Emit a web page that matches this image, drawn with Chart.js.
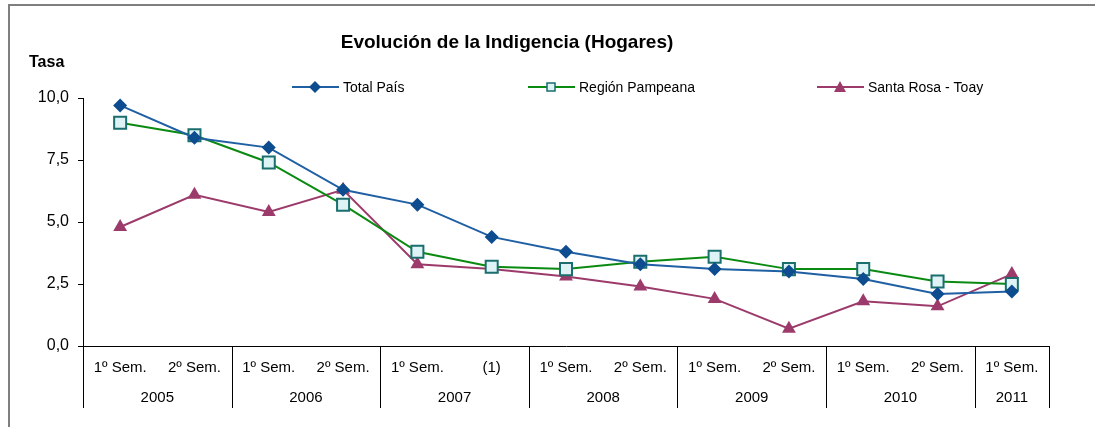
<!DOCTYPE html>
<html>
<head>
<meta charset="utf-8">
<script src="https://cdn.jsdelivr.net/npm/chart.js@4.4.1/dist/chart.umd.min.js"></script>
<style>
  body { margin: 0; background: #fff; }
</style>
</head>
<body>
<canvas id="grafico" width="1095" height="427"></canvas>
<script>
// Datos
const semestres = ['1º Sem.', '2º Sem.', '1º Sem.', '2º Sem.', '1º Sem.', '(1)', '1º Sem.', '2º Sem.', '1º Sem.', '2º Sem.', '1º Sem.', '2º Sem.', '1º Sem.'];
const anios = ['2005', '2006', '2007', '2008', '2009', '2010', '2011'];
const semestresPorAnio = [2, 2, 2, 2, 2, 2, 1];
const totalPais = [9.7, 8.4, 8.0, 6.3, 5.7, 4.4, 3.8, 3.3, 3.1, 3.0, 2.7, 2.1, 2.2];
const regionPampeana = [9.0, 8.5, 7.4, 5.7, 3.8, 3.2, 3.1, 3.4, 3.6, 3.1, 3.1, 2.6, 2.5];
const santaRosaToay = [4.8, 6.1, 5.4, 6.3, 3.3, 3.1, 2.8, 2.4, 1.9, 0.7, 1.8, 1.6, 2.9];
const ticksY = [0, 2.5, 5, 7.5, 10];

const FUENTE = '"Liberation Sans", Arial, sans-serif';

// Colores
const azul = '#1F5FA3', azulMarca = '#0D4C8E';
const verde = '#0B8A12', tealBorde = '#1A6E6E', celeste = '#DDF3F5';
const purpura = '#9C3B6B';

// Dibuja una marca de la leyenda
function marca(ctx, tipo, x, y) {
    ctx.beginPath();
    if (tipo === 'diamante') {
        ctx.fillStyle = azulMarca;
        ctx.moveTo(x - 6, y); ctx.lineTo(x, y - 6); ctx.lineTo(x + 6, y); ctx.lineTo(x, y + 6);
        ctx.closePath(); ctx.fill();
    } else if (tipo === 'cuadrado') {
        ctx.fillStyle = celeste; ctx.strokeStyle = tealBorde; ctx.lineWidth = 1.5;
        ctx.rect(x - 4, y - 4, 8, 8); ctx.fill(); ctx.stroke();
    } else {
        ctx.fillStyle = purpura;
        ctx.moveTo(x - 6, y + 5); ctx.lineTo(x, y - 6); ctx.lineTo(x + 6, y + 5);
        ctx.closePath(); ctx.fill();
    }
}

const decoracion = {
    id: 'decoracion',
    afterDraw(chart) {
        const ctx = chart.ctx;
        const xs = chart.scales.x;
        const area = chart.chartArea;
        ctx.save();

        // Marco gris
        ctx.strokeStyle = '#7f7f7f';
        ctx.lineWidth = 2;
        ctx.beginPath();
        ctx.moveTo(9, 427); ctx.lineTo(9, 5); ctx.lineTo(1095, 5);
        ctx.stroke();

        // Título y etiqueta del eje
        ctx.fillStyle = '#000';
        ctx.textBaseline = 'middle';
        ctx.textAlign = 'center';
        ctx.font = 'bold 19px ' + FUENTE;
        ctx.fillText('Evolución de la Indigencia (Hogares)', 507, 43);
        ctx.textAlign = 'left';
        ctx.font = 'bold 16px ' + FUENTE;
        ctx.fillText('Tasa', 29, 63);

        // Leyenda
        const items = [
            { texto: 'Total País', color: azul, tipo: 'diamante', x: 292 },
            { texto: 'Región Pampeana', color: verde, tipo: 'cuadrado', x: 528 },
            { texto: 'Santa Rosa - Toay', color: purpura, tipo: 'triangulo', x: 817 }
        ];
        ctx.font = '14px ' + FUENTE;
        items.forEach(it => {
            const y = 87;
            ctx.strokeStyle = it.color; ctx.lineWidth = 2;
            ctx.beginPath(); ctx.moveTo(it.x, y); ctx.lineTo(it.x + 47, y); ctx.stroke();
            marca(ctx, it.tipo, it.x + 23, y);
            ctx.fillStyle = '#000';
            ctx.fillText(it.texto, it.x + 51, y + 1);
        });

        // Etiquetas de semestre
        ctx.textAlign = 'center';
        ctx.font = '15px ' + FUENTE;
        semestres.forEach((s, i) => {
            ctx.fillText(s, xs.getPixelForValue(i), 368);
        });

        // Separadores y años
        ctx.strokeStyle = '#000'; ctx.lineWidth = 1;
        const borde = i => {
            if (i <= 0) return area.left;
            if (i >= semestres.length) return area.right;
            return (xs.getPixelForValue(i - 1) + xs.getPixelForValue(i)) / 2;
        };
        let inicio = 0;
        const lineaV = x => {
            const px = Math.round(x) + 0.5;
            ctx.beginPath(); ctx.moveTo(px, area.bottom); ctx.lineTo(px, 408); ctx.stroke();
        };
        lineaV(borde(0));
        anios.forEach((a, k) => {
            const fin = inicio + semestresPorAnio[k];
            const x0 = borde(inicio), x1 = borde(fin);
            lineaV(x1);
            ctx.fillText(a, (x0 + x1) / 2, 398);
            inicio = fin;
        });
        ctx.restore();
    }
};

new Chart(document.getElementById('grafico'), {
    type: 'line',
    data: {
        labels: semestres,
        datasets: [
            {
                label: 'Total País', data: totalPais,
                borderColor: azul, borderWidth: 2,
                pointStyle: 'rectRot', pointRadius: 7,
                pointBackgroundColor: azulMarca, pointBorderColor: azulMarca, pointBorderWidth: 0
            },
            {
                label: 'Región Pampeana', data: regionPampeana,
                borderColor: verde, borderWidth: 2,
                pointStyle: 'rect', pointRadius: 8.5,
                pointBackgroundColor: celeste, pointBorderColor: tealBorde, pointBorderWidth: 2
            },
            {
                label: 'Santa Rosa - Toay', data: santaRosaToay,
                borderColor: purpura, borderWidth: 2,
                pointStyle: 'triangle', pointRadius: 8,
                pointBackgroundColor: purpura, pointBorderColor: purpura, pointBorderWidth: 0
            }
        ]
    },
    options: {
        responsive: false,
        animation: false,
        layout: { padding: { top: 98, right: 46, left: 0, bottom: 0 } },
        plugins: { legend: { display: false }, title: { display: false }, tooltip: { enabled: false } },
        elements: { line: { tension: 0 } },
        scales: {
            x: {
                offset: true,
                ticks: { display: false },
                grid: { display: false },
                border: { display: true, color: '#000', width: 1 },
                afterFit: s => { s.height = 81; }
            },
            y: {
                min: 0, max: 10,
                afterBuildTicks: s => { s.ticks = ticksY.map(v => ({ value: v })); },
                ticks: {
                    color: '#000', padding: 9,
                    font: { size: 16, family: FUENTE },
                    callback: v => v.toFixed(1).replace('.', ',')
                },
                grid: { drawOnChartArea: false, drawTicks: true, tickLength: 5, color: '#000' },
                border: { display: true, color: '#000', width: 1 },
                afterFit: s => { s.width = 83; }
            }
        }
    },
    plugins: [decoracion]
});
</script>
</body>
</html>
